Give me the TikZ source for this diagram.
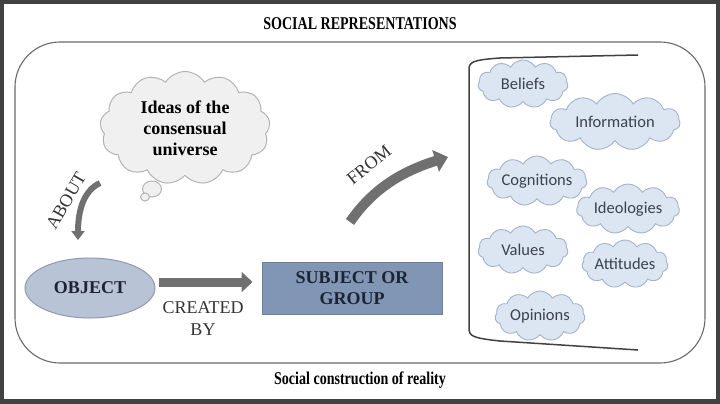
\documentclass[tikz,border=0pt]{standalone}
\usepackage{fontspec}
\setmainfont{Liberation Serif}
\newfontfamily\condfont[FakeStretch=0.78]{Liberation Serif}
\newfontfamily\cloudfont{Carlito}
\usetikzlibrary{positioning, calc, arrows.meta, shapes.geometric, shapes.symbols}
\definecolor{framegray}{HTML}{424242}
\definecolor{boxline}{HTML}{6A6A6A}
\definecolor{arrgray}{HTML}{707070}
\definecolor{cloudfill}{HTML}{DCE6F2}
\definecolor{cloudline}{HTML}{A3B3CA}
\definecolor{cloudtext}{HTML}{3A4150}
\definecolor{ideafill}{HTML}{F0F0F0}
\definecolor{idealine}{HTML}{B4B4B4}
\definecolor{objfill}{HTML}{B8C3D5}
\definecolor{objline}{HTML}{8C9AB2}
\definecolor{subjfill}{HTML}{8096B4}
\definecolor{subjline}{HTML}{6C809E}
\definecolor{navy}{HTML}{1C2333}
\tikzset{notion/.style args={#1|#2}{cloud, cloud puffs=11, cloud puff arc=120, cloud ignores aspect, draw=cloudline, fill=cloudfill, line width=0.9pt, inner sep=0pt, minimum width=#1pt, minimum height=#2pt, text=cloudtext, font=\cloudfont\fontsize{16.5}{19}\selectfont}}
\tikzset{garr/.style={draw=arrgray, line width=#1}}
\tikzset{bold18/.style={font=\bfseries\fontsize{18}{21}\selectfont, align=center}}
\tikzset{reg18/.style={font=\fontsize{18}{22}\selectfont, text=black!80, align=center}}

\begin{document}
\begin{tikzpicture}[x=1pt, y=-1pt]
	% frame
	\fill[framegray] (0,0) rectangle (720,404);
	\fill[white] (4,4) rectangle (716,399);
	\useasboundingbox (0,0) rectangle (720,404);

	\node[font=\condfont\bfseries\fontsize{18}{20}\selectfont] (title) at (360,24) {SOCIAL REPRESENTATIONS};
	\draw[boxline, line width=1.1pt, rounded corners=45pt] (15,42) rectangle (705,363);
	\node[font=\condfont\bfseries\fontsize{18}{20}\selectfont] (footer) at (360,380) {Social construction of reality};

	% thought bubble
	\node[cloud, cloud puffs=13, cloud puff arc=115, cloud ignores aspect, draw=idealine, fill=ideafill, line width=1pt,
		minimum width=170pt, minimum height=113pt, inner sep=0pt, bold18, text=black] (ideas) at (185,128) {Ideas of the\\consensual\\universe};
	\node[ellipse, draw=idealine, fill=ideafill, line width=1pt, minimum width=19pt, minimum height=16pt, inner sep=0pt] (tail1) at (152,189) {};
	\node[ellipse, draw=idealine, fill=ideafill, line width=1pt, minimum width=9pt, minimum height=8pt, inner sep=0pt] (tail2) at (145,197) {};

	\node[ellipse, draw=objline, fill=objfill, line width=1pt, minimum width=130pt, minimum height=60pt, bold18, text=navy] (object) at (90,288) {OBJECT};
	\node[rectangle, draw=subjline, fill=subjfill, line width=1pt, minimum width=180pt, minimum height=52pt, bold18, text=navy] (subject) at (352,288) {SUBJECT OR\\GROUP};

	% arrows
	\coordinate (about-s) at (100,183);
	\coordinate (about-e) at (78,240);
	\draw[garr=6pt, -{Triangle[width=13pt, length=9pt]}] (about-s) .. controls (85,190) and (78,208) .. (about-e);
	\node[reg18, rotate=60] (about) at (66,201) {ABOUT};

	\draw[garr=9pt, -{Triangle[width=20pt, length=11pt]}, shorten <=3pt, shorten >=9pt] ([yshift=6pt]object.east) -- ([yshift=6pt]subject.west);
	\node[reg18] (created) at (203,319) {CREATED\\BY};

	\coordinate (from-s) at (350,222);
	\coordinate (from-e) at (448,157);
	\draw[garr=10pt, -{Triangle[width=22pt, length=13pt]}] (from-s) .. controls (372,190) and (400,172) .. (from-e);
	\node[reg18, rotate=39] (from) at (369,165) {FROM};

	% bracket
	\draw[framegray, line width=1.5pt] (638,55) -- (500,58) .. controls (472,60) and (469,62) .. (469,70) -- (469,328) .. controls (469,336) and (472,338) .. (500,341) -- (638,350);

	\node[notion={90|48}] (beliefs) at (523,84) {Beliefs};
	\node[notion={130|57}] (information) at (615,122) {Information};
	\node[notion={100|50}] (cognitions) at (537,181) {Cognitions};
	\node[notion={103|50}] (ideologies) at (628,209) {Ideologies};
	\node[notion={90|48}] (values) at (523,250) {Values};
	\node[notion={86|48}] (attitudes) at (625,264) {Attitudes};
	\node[notion={90|50}] (opinions) at (540,316) {Opinions};
\end{tikzpicture}
\end{document}
